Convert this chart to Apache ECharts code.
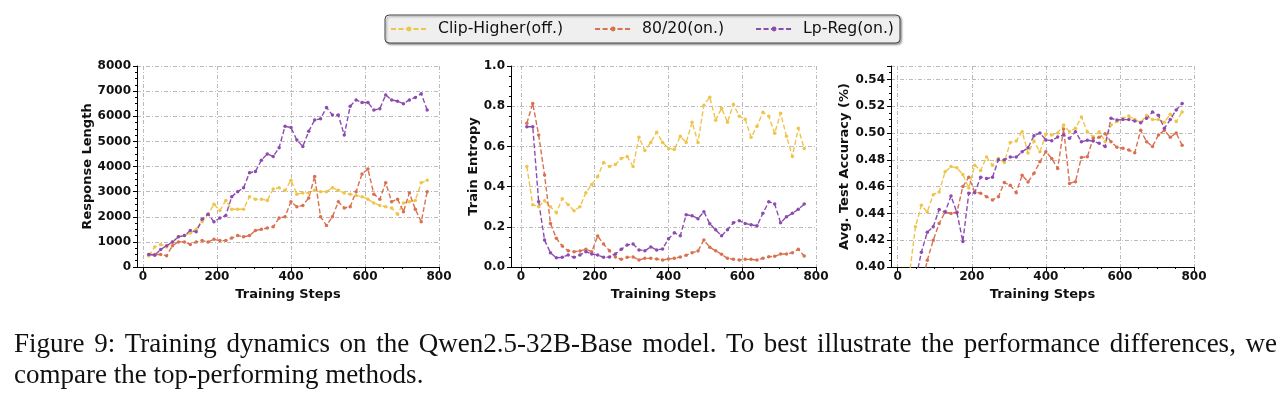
<!DOCTYPE html>
<html>
<head>
<meta charset="utf-8">
<script src="https://cdn.jsdelivr.net/npm/echarts@6/dist/echarts.min.js"></script>
<style>
  html, body { margin: 0; padding: 0; background: #fff; }
  #chart { width: 1288px; height: 398px; }
</style>
</head>
<body>
<div id="chart"></div>
<script>
// training steps (x values, shared by all panels)
const steps = [16, 32, 48, 64, 80, 96, 112, 128, 144, 160, 176, 192, 208, 224, 240, 256, 272, 288, 304, 320, 336, 352, 368, 384,
  400, 416, 432, 448, 464, 480, 496, 512, 528, 544, 560, 576, 592, 608, 624, 640, 656, 672, 688, 704, 720, 736, 752, 768];

const seriesNames = ['Clip-Higher(off.)', '80/20(on.)', 'Lp-Reg(on.)'];

// Response Length
const respClip = [450, 800, 900, 800, 1000, 1200, 1250, 1350, 1500, 1800, 2100, 2500, 2250, 2650, 2300, 2300, 2300, 2800, 2700, 2700, 2650, 3100, 3150, 3050,
  3450, 2900, 2950, 2950, 3050, 3000, 3000, 3150, 3050, 2950, 2900, 2850, 2800, 2700, 2550, 2450, 2400, 2350, 2100, 2550, 2600, 2650, 3350, 3450];
const resp8020 = [500, 500, 500, 450, 850, 1000, 1000, 900, 1000, 1050, 1000, 1100, 1050, 1050, 1150, 1250, 1200, 1250, 1450, 1500, 1550, 1600, 1950, 2000,
  2600, 2400, 2450, 2750, 3600, 2000, 1650, 2000, 2600, 2350, 2400, 3000, 3700, 3900, 2900, 2700, 3350, 2600, 2700, 2200, 2950, 2300, 1800, 3000];
const respLp = [500, 470, 700, 850, 1000, 1200, 1250, 1450, 1400, 1900, 2100, 1800, 1950, 2050, 2800, 3000, 3150, 3750, 3800, 4250, 4500, 4400, 4750, 5600,
  5550, 5050, 4800, 5400, 5850, 5900, 6350, 6050, 6050, 5250, 6400, 6650, 6550, 6550, 6250, 6300, 6850, 6650, 6600, 6500, 6650, 6750, 6900, 6250];

// Train Entropy
const entClip = [0.50, 0.31, 0.30, 0.33, 0.30, 0.27, 0.34, 0.31, 0.28, 0.30, 0.37, 0.41, 0.45, 0.52, 0.50, 0.51, 0.54, 0.55, 0.50, 0.645, 0.58, 0.62, 0.67, 0.62,
  0.59, 0.585, 0.65, 0.62, 0.72, 0.62, 0.805, 0.845, 0.73, 0.79, 0.72, 0.81, 0.75, 0.735, 0.645, 0.70, 0.77, 0.75, 0.665, 0.765, 0.65, 0.55, 0.69, 0.59];
const ent8020 = [0.715, 0.814, 0.657, 0.458, 0.217, 0.143, 0.104, 0.081, 0.076, 0.08, 0.088, 0.076, 0.154, 0.114, 0.081, 0.05, 0.038, 0.048, 0.05, 0.035, 0.043, 0.043, 0.04, 0.035,
  0.04, 0.043, 0.05, 0.058, 0.071, 0.08, 0.134, 0.098, 0.081, 0.063, 0.043, 0.038, 0.035, 0.038, 0.038, 0.035, 0.043, 0.051, 0.053, 0.065, 0.065, 0.071, 0.088, 0.055];
const entLp = [0.698, 0.698, 0.325, 0.134, 0.071, 0.046, 0.048, 0.06, 0.048, 0.06, 0.076, 0.065, 0.06, 0.048, 0.05, 0.065, 0.088, 0.11, 0.114, 0.085, 0.081, 0.10, 0.085, 0.09,
  0.14, 0.17, 0.155, 0.26, 0.255, 0.24, 0.275, 0.215, 0.185, 0.155, 0.185, 0.22, 0.23, 0.217, 0.21, 0.205, 0.267, 0.325, 0.313, 0.22, 0.25, 0.267, 0.287, 0.313];

// Avg. Test Accuracy
const accClip = [0.36, 0.395, 0.43, 0.446, 0.441, 0.454, 0.456, 0.471, 0.475, 0.474, 0.469, 0.459, 0.476, 0.472, 0.482, 0.476, 0.481, 0.478, 0.493, 0.494, 0.501, 0.485, 0.494, 0.486,
  0.499, 0.4985, 0.500, 0.506, 0.501, 0.5035, 0.512, 0.501, 0.497, 0.501, 0.4935, 0.506, 0.5085, 0.511, 0.5127, 0.510, 0.508, 0.513, 0.510, 0.510, 0.508, 0.514, 0.5085, 0.5157];
const acc8020 = [0.34, 0.355, 0.37, 0.385, 0.405, 0.420, 0.4325, 0.441, 0.440, 0.441, 0.460, 0.467, 0.456, 0.455, 0.4525, 0.450, 0.4525, 0.463, 0.461, 0.4555, 0.4685, 0.4635, 0.470, 0.4785,
  0.486, 0.481, 0.4736, 0.503, 0.4624, 0.4637, 0.4818, 0.4823, 0.496, 0.4968, 0.4995, 0.4935, 0.4893, 0.4886, 0.4873, 0.4853, 0.502, 0.4935, 0.490, 0.4985, 0.502, 0.4968, 0.500, 0.4908];
const accLp = [0.35, 0.37, 0.39, 0.411, 0.426, 0.430, 0.443, 0.441, 0.453, 0.4405, 0.419, 0.455, 0.4555, 0.467, 0.466, 0.467, 0.480, 0.480, 0.482, 0.482, 0.486, 0.489, 0.498, 0.500,
  0.4948, 0.4943, 0.497, 0.4985, 0.496, 0.501, 0.4935, 0.4945, 0.494, 0.4923, 0.490, 0.511, 0.5097, 0.510, 0.510, 0.509, 0.5077, 0.511, 0.5157, 0.5132, 0.5035, 0.510, 0.5172, 0.522];

const xTicks = [0, 200, 400, 600, 800];
const xMinorTicks = [50, 100, 150, 250, 300, 350, 450, 500, 550, 650, 700, 750];

const captionLine1 = 'Figure 9: Training dynamics on the Qwen2.5-32B-Base model. To best illustrate the performance differences, we';
const captionLine2 = 'compare the top-performing methods.';

const colors = ['#EEC44A', '#D9704F', '#8C4BAE'];

const panels = [
  { name: 'Response Length', data: [respClip, resp8020, respLp], min: 0, max: 8000, interval: 1000, dec: 0, nameGap: 42, xMin: -16,
    grid: { left: 137, top: 66, width: 302, height: 201 } },
  { name: 'Train Entropy', data: [entClip, ent8020, entLp], min: 0, max: 1, interval: 0.2, dec: 1, nameGap: 26, xMin: -27,
    grid: { left: 511, top: 66, width: 305, height: 201 } },
  { name: 'Avg. Test Accuracy (%)', data: [accClip, acc8020, accLp], min: 0.40, max: 0.55, interval: 0.02, dec: 2, nameGap: 34, xMin: -18,
    grid: { left: 891, top: 66, width: 303, height: 201 } }
];

const boldFont = { fontFamily: 'DejaVu Sans', fontWeight: 'bold', color: '#111' };
const gridLine = { show: true, lineStyle: { color: '#aaaaaa', width: 0.8, type: [4, 2, 1, 2] } };

const chart = echarts.init(document.getElementById('chart'), null, { renderer: 'canvas' });

const grids = [], xAxes = [], yAxes = [], series = [];
panels.forEach(function (p, i) {
  grids.push(Object.assign({ containLabel: false }, p.grid));
  // main x axis
  xAxes.push({
    gridIndex: i, type: 'value', min: p.xMin, max: 800,
    axisLine: { show: true, onZero: false, lineStyle: { color: '#000', width: 1 } },
    axisTick: { show: true, length: 4, customValues: xTicks, lineStyle: { color: '#000' } },
    axisLabel: Object.assign({ customValues: xTicks, fontSize: 12, margin: 4 }, boldFont),
    splitLine: gridLine,
    name: 'Training Steps', nameLocation: 'middle', nameGap: 20,
    nameTextStyle: Object.assign({ fontSize: 13 }, boldFont)
  });
  // minor ticks on x
  xAxes.push({
    gridIndex: i, type: 'value', min: p.xMin, max: 800, position: 'bottom',
    axisLine: { show: false },
    axisTick: { show: true, length: 2, customValues: xMinorTicks, lineStyle: { color: '#000' } },
    axisLabel: { show: false },
    splitLine: { show: false }
  });
  yAxes.push({
    gridIndex: i, type: 'value', min: p.min, max: p.max, interval: p.interval,
    axisLine: { show: true, onZero: false, lineStyle: { color: '#000', width: 1 } },
    axisTick: { show: true, length: 4, lineStyle: { color: '#000' } },
    minorTick: { show: true, splitNumber: 4, length: 2, lineStyle: { color: '#000' } },
    axisLabel: Object.assign({
      fontSize: 12, margin: 6,
      formatter: function (v) {
        const k = v / p.interval;
        if (Math.abs(k - Math.round(k)) > 1e-6) return '';
        return v.toFixed(p.dec);
      }
    }, boldFont),
    splitLine: gridLine,
    name: p.name, nameLocation: 'middle', nameGap: p.nameGap,
    nameTextStyle: Object.assign({ fontSize: 13 }, boldFont)
  });
  p.data.forEach(function (vals, j) {
    series.push({
      type: 'line', name: seriesNames[j],
      xAxisIndex: i * 2, yAxisIndex: i,
      data: steps.map(function (s, k) { return [s, vals[k]]; }),
      symbol: 'circle', symbolSize: 3.5, showSymbol: true,
      clip: true,
      lineStyle: { color: colors[j], width: 1.4, type: [5, 2.5] },
      itemStyle: { color: colors[j] },
      emphasis: { disabled: true }
    });
  });
});

// caption, justified like the source paper
const measure = document.createElement('canvas').getContext('2d');
const capFont = '27px "Liberation Serif"';
measure.font = capFont;
const words = captionLine1.split(' ');
const widths = words.map(function (w) { return measure.measureText(w).width; });
const lineLeft = 14, lineRight = 1277;
const gap = (lineRight - lineLeft - widths.reduce(function (a, b) { return a + b; }, 0)) / (words.length - 1);
const graphics = [];
let cx = lineLeft;
words.forEach(function (w, k) {
  graphics.push({ type: 'text', x: cx, y: 331, style: { text: w, font: capFont, fill: '#111', textVerticalAlign: 'top' } });
  cx += widths[k] + gap;
});
graphics.push({ type: 'text', x: lineLeft, y: 362, style: { text: captionLine2, font: capFont, fill: '#111', textVerticalAlign: 'top' } });

chart.setOption({
  animation: false,
  backgroundColor: '#fff',
  legend: {
    data: seriesNames,
    left: 385, top: 15,
    orient: 'horizontal',
    itemGap: 31, itemWidth: 36, itemHeight: 6,
    padding: [6, 6, 6, 5],
    backgroundColor: '#efefef',
    borderColor: '#444', borderWidth: 1, borderRadius: 4,
    shadowColor: 'rgba(0,0,0,0.35)', shadowBlur: 2, shadowOffsetX: 1.5, shadowOffsetY: 1.5,
    textStyle: { fontFamily: 'DejaVu Sans', fontSize: 15.7, color: '#111', padding: [1, 0, 0, 6] }
  },
  grid: grids,
  xAxis: xAxes,
  yAxis: yAxes,
  series: series,
  graphic: graphics
});
</script>
</body>
</html>
